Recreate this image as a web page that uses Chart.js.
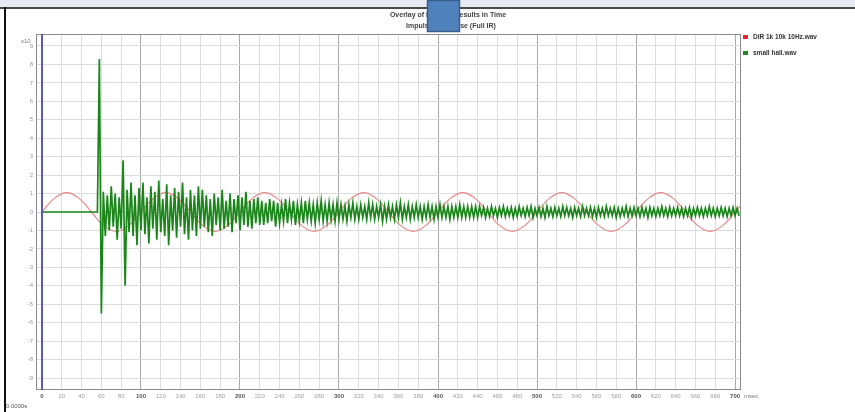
<!DOCTYPE html>
<html><head><meta charset="utf-8">
<script src="https://cdn.jsdelivr.net/npm/chart.js@4"></script>
<style>html,body{margin:0;padding:0;background:#fff;overflow:hidden}canvas{display:block}</style>
</head><body>
<canvas id="c" width="855" height="412"></canvas>
<script>
// ---- text ----
const titleLines = ['Overlay of Impulse Results in Time', 'Impulse Response (Full IR)'];
const seriesNames = ['DIR 1k 10k 10Hz.wav', 'small hall.wav'];
const yUnitLabel = 'x10';
const xUnitLabel = 'msec';
const cornerText = '0.0000s';

// ---- axes ----
const xRange = [-6, 706];
const yRange = [-9.65, 9.65];
const xTickStep = 20;
const xMajorStep = 100;
const yTickStep = 1;

const toneStartMs = 0;
const toneStepMs = 12.5;
const toneValues = [
  0, 0.74, 1.05, 0.74, 0, -0.74, -1.05, -0.74,
  0, 0.74, 1.05, 0.74, 0, -0.74, -1.05, -0.74,
  0, 0.74, 1.05, 0.74, 0, -0.74, -1.05, -0.74,
  0, 0.74, 1.05, 0.74, 0, -0.74, -1.05, -0.74,
  0, 0.74, 1.05, 0.74, 0, -0.74, -1.05, -0.74,
  0, 0.74, 1.05, 0.74, 0, -0.74, -1.05, -0.74,
  0, 0.74, 1.05, 0.74, 0, -0.74, -1.05, -0.74,
  0, 0.74
];

// ---- series 2: hall impulse response ----
const hallLeadMs = [0, 56];
const hallLeadValues = [0, 0];
const hallStartMs = 58;
const hallStepMs = 2;
const hallValues = [
  8.3, -5.5, 1.1, -1.3, 0.9, -1.0, 1.4, -0.8, 1.0, -1.5, 0.8, -0.9, 2.8, -4.0, 1.2, -1.1, 1.6, -1.3, 0.9, -1.8, 1.3, -1.0,
  1.6, -1.2, 0.8, -1.7, 1.4, -0.9, 1.1, -1.5, 1.7, -1.1, 0.7, -1.3, 1.5, -1.8, 0.9, -1.0, 1.3, -1.4, 1.1, -0.8, 1.6, -1.2, 0.8, -1.5, 1.2, -1.0, 0.9, -1.3, 1.4, -0.9,
  1.2, -0.8, 0.9, -1.1, 0.7, -1.3, 1.0, -0.7, 0.8, -1.0, 1.2, -0.9, 0.6, -0.8, 1.0, -1.1, 0.7, -0.6, 0.9, -1.0, 0.8, -0.7, 1.1, -0.8, 0.6, -0.9, 0.7, -0.6, 0.8, -0.7,
  0.6, -0.7, 0.5, -0.6, 0.7, -0.5, 0.6, -0.8, 0.5, -0.6, 0.4, -0.5, 0.7, -0.6, 0.5, -0.4, 0.6, -0.7, 0.4, -0.5,
  0.5, -0.6, 0.6, -0.4, 0.5, -0.5, 0.4, -0.6, 0.5, -0.4, 0.6, -0.5, 0.4, -0.5, 0.5, -0.4, 0.4, -0.5, 0.5, -0.4,
  0.4, -0.4, 0.3, -0.5, 0.4, -0.3, 0.5, -0.4, 0.3, -0.4, 0.4, -0.3, 0.3, -0.4, 0.5, -0.3, 0.4, -0.4, 0.3, -0.3,
  0.4, -0.5, 0.3, -0.4, 0.4, -0.3, 0.3, -0.4, 0.4, -0.3, 0.5, -0.4, 0.3, -0.3, 0.4, -0.4, 0.3, -0.3, 0.4, -0.3,
  0.3, -0.4, 0.3, -0.3, 0.4, -0.3, 0.3, -0.4, 0.3, -0.3, 0.4, -0.3, 0.3, -0.3, 0.3, -0.4, 0.3, -0.3, 0.3, -0.3,
  0.4, -0.3, 0.3, -0.3, 0.3, -0.3, 0.3, -0.3, 0.3, -0.3,
  0.3, -0.2, 0.25, -0.3, 0.2, -0.25, 0.3, -0.2, 0.2, -0.3, 0.25, -0.2, 0.3, -0.25, 0.2, -0.2, 0.25, -0.3, 0.2, -0.25,
  0.3, -0.2, 0.2, -0.25, 0.25, -0.2, 0.3, -0.3, 0.2, -0.2, 0.25, -0.25, 0.2, -0.3, 0.3, -0.2, 0.2, -0.25, 0.25, -0.2,
  0.2, -0.25, 0.3, -0.2, 0.25, -0.2, 0.2, -0.3, 0.25, -0.2, 0.2, -0.25, 0.3, -0.2, 0.2, -0.2, 0.25, -0.25, 0.2, -0.3,
  0.25, -0.2, 0.2, -0.25, 0.3, -0.2, 0.2, -0.2, 0.25, -0.3, 0.2, -0.25, 0.2, -0.2, 0.3, -0.25, 0.2, -0.2, 0.25, -0.2,
  0.2, -0.25, 0.25, -0.2, 0.2, -0.3, 0.25, -0.2, 0.2, -0.25, 0.2, -0.2, 0.3, -0.2, 0.2, -0.25, 0.25, -0.2, 0.2, -0.2,
  0.25, -0.2, 0.2, -0.25, 0.2, -0.2, 0.25, -0.3, 0.2, -0.2, 0.25, -0.2, 0.2, -0.25, 0.2, -0.2, 0.3, -0.2, 0.2, -0.25,
  0.2, -0.2, 0.25, -0.2, 0.2, -0.25, 0.2, -0.2, 0.25, -0.2, 0.2, -0.2
];

// ---- build point tables ----
const tonePoints = toneValues.map((v, i) => ({x: toneStartMs + i * toneStepMs, y: v}));
const hallPoints = hallLeadMs.map((t, i) => ({x: t, y: hallLeadValues[i]}))
  .concat(hallValues.map((v, i) => ({x: hallStartMs + i * hallStepMs, y: v})));

const seriesColors = ['#e88a8a', '#1a861a'];
const legendColors = ['#e02828', '#1f8c1f'];
const FONT = '"Liberation Sans", Arial, sans-serif';

const decor = {
  id: 'decor',
  beforeDraw(chart) {
    const c = chart.ctx;
    c.save();
    c.fillStyle = '#ffffff';
    c.fillRect(0, 0, chart.width, chart.height);
    c.restore();
  },
  afterDraw(chart) {
    const c = chart.ctx;
    const a = chart.chartArea;
    const xs = chart.scales.x;
    c.save();
    // plot frame
    c.strokeStyle = '#8a8a8a';
    c.lineWidth = 1;
    c.strokeRect(a.left + 0.5, a.top + 0.5, a.right - a.left - 1, a.bottom - a.top - 1);
    // zero-time marker
    const x0 = Math.round(xs.getPixelForValue(0));
    c.strokeStyle = '#5a5cb0';
    c.lineWidth = 2;
    c.beginPath(); c.moveTo(x0, a.top); c.lineTo(x0, a.bottom); c.stroke();
    // window frame
    c.fillStyle = '#e7eaf2';
    c.fillRect(0, 0, chart.width, 7);
    c.fillStyle = '#4a4a4a';
    c.fillRect(0, 7, chart.width, 2);
    c.fillStyle = '#111';
    c.fillRect(4, 7, 2, chart.height - 7);
    // title
    c.fillStyle = '#444';
    c.textAlign = 'center';
    c.textBaseline = 'middle';
    c.font = 'bold 7px ' + FONT;
    c.fillText(titleLines[0], 448, 15);
    c.fillText(titleLines[1], 451, 26);
    // units
    c.font = '6px ' + FONT;
    c.fillStyle = '#777';
    c.textAlign = 'left';
    c.fillText(yUnitLabel, 21, 41);
    c.fillText(xUnitLabel, a.right + 3, a.bottom + 6);
    c.fillStyle = '#555';
    c.fillText(cornerText, 6, 406);
    // legend
    c.font = 'bold 6.5px ' + FONT;
    seriesNames.forEach((n, i) => {
      const y = 37 + i * 16;
      c.fillStyle = legendColors[i];
      c.fillRect(743, y - 2, 5, 4);
      c.fillStyle = '#333';
      c.fillText(n, 753, y);
    });
    // overlay rectangle
    c.fillStyle = '#4f81bd';
    c.fillRect(427, 0, 33, 32);
    c.strokeStyle = '#385d8a';
    c.lineWidth = 1.5;
    c.strokeRect(427.5, 0.5, 32, 31);
    c.restore();
  }
};

new Chart(document.getElementById('c'), {
  type: 'line',
  data: {
    datasets: [
      {label: seriesNames[0], data: tonePoints, borderColor: seriesColors[0], borderWidth: 1.2,
       pointRadius: 0, tension: 0.4, fill: false, order: 1},
      {label: seriesNames[1], data: hallPoints, borderColor: seriesColors[1], borderWidth: 1.7,
       pointRadius: 0, tension: 0, fill: false, order: 0}
    ]
  },
  options: {
    responsive: false,
    animation: false,
    devicePixelRatio: 1,
    layout: {padding: {left: 0, top: 34, right: 114, bottom: 0}},
    plugins: {legend: {display: false}, title: {display: false}, tooltip: {enabled: false}},
    scales: {
      x: {
        type: 'linear', min: xRange[0], max: xRange[1],
        ticks: {
          stepSize: xTickStep, includeBounds: false, autoSkip: false, maxRotation: 0, padding: 3,
          font: ctx => ({family: FONT, size: 6, weight: (ctx.tick && ctx.tick.value % xMajorStep === 0) ? 'bold' : 'normal'}),
          color: ctx => (ctx.tick && ctx.tick.value % xMajorStep === 0) ? '#555' : '#a0a0a0'
        },
        grid: {
          drawTicks: false,
          color: ctx => (ctx.tick && ctx.tick.value % xMajorStep === 0) ? '#a8a8a8' : '#dedede'
        },
        border: {display: false},
        afterFit: s => { s.height = 22; }
      },
      y: {
        min: yRange[0], max: yRange[1],
        ticks: {stepSize: yTickStep, includeBounds: false, padding: 3,
          font: {family: FONT, size: 6}, color: '#999'},
        grid: {drawTicks: false, color: '#dcdcdc'},
        border: {display: false},
        afterFit: s => { s.width = 36; }
      }
    }
  },
  plugins: [decor]
});
</script>
</body></html>
